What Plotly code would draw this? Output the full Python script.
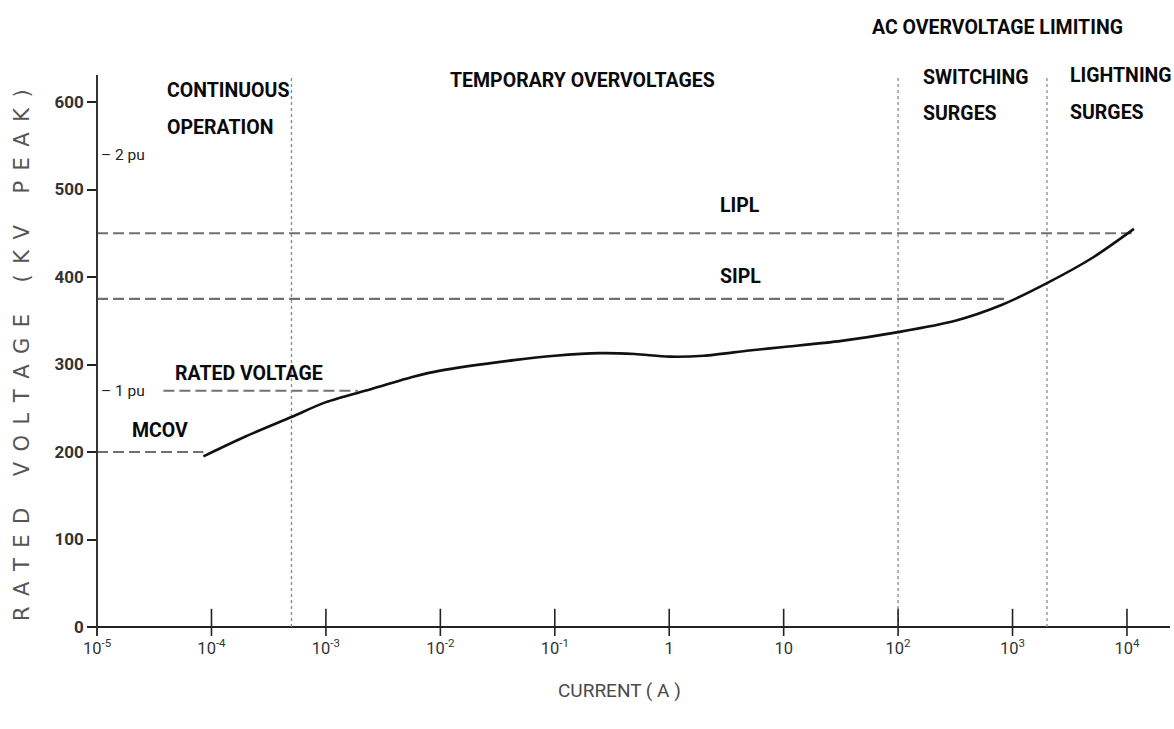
import plotly.graph_objects as go

# Arrester V-I characteristic: current (A) vs rated voltage (kV peak)
current_a = [8.5e-5, 2e-4, 5e-4, 1e-3, 2.5e-3, 5.8e-3, 1e-2, 4.4e-2, 0.1, 0.25,
             0.5, 1.0, 2.0, 5.0, 10.0, 32.0, 100.0, 316.0, 800.0, 2000.0, 5000.0, 11500.0]
voltage_kv = [195, 218, 240, 257, 272, 286, 293, 305, 310, 313,
              312, 309, 310, 316, 320, 327, 337, 350, 368, 393, 422, 455]

# Reference levels (kV peak)
mcov_kv = 200
rated_kv = 270
sipl_kv = 375
lipl_kv = 450
pu_levels_kv = [270, 540]
pu_labels = ["1 pu", "2 pu"]

# Extents of the dashed level lines along the current axis (A)
mcov_span = [1e-5, 8.5e-5]
rated_span = [3.8e-5, 1.9e-3]
sipl_span = [1e-5, 900.0]
lipl_span = [1e-5, 11000.0]

# Region boundaries (A)
boundaries_a = [5e-4, 100.0, 2000.0]

# Axis ticks
x_tickvals = [1e-5, 1e-4, 1e-3, 1e-2, 1e-1, 1, 10, 100, 1000, 10000]
x_ticktext = ["10<sup>-5</sup>", "10<sup>-4</sup>", "10<sup>-3</sup>", "10<sup>-2</sup>",
              "10<sup>-1</sup>", "1", "10", "10<sup>2</sup>", "10<sup>3</sup>", "10<sup>4</sup>"]
y_tickvals = [0, 100, 200, 300, 400, 500, 600]

Y_MIN, Y_MAX = -10.3, 630.9
X_MIN_LOG, X_MAX_LOG = -5.079, 4.376

# Plot-area geometry (pixels)
M_LEFT, M_RIGHT, M_TOP, M_BOTTOM = 88, 4, 75, 93
W, H = 1174, 729
PLOT_W = W - M_LEFT - M_RIGHT
PLOT_H = H - M_TOP - M_BOTTOM


def paper_x(px):
    return (px - M_LEFT) / PLOT_W


def paper_y(py):
    return (H - M_BOTTOM - py) / PLOT_H


BOLD = "Roboto, Liberation Sans, sans-serif"
PLAIN = "DejaVu Sans, Liberation Sans, sans-serif"
EN = "\u2002"
GAP = "\u2003\u2002"
LABEL_SIZE = 19.5

fig = go.Figure()

# Dashed level lines
dash_style = dict(color="#707070", width=2.2, dash="11px,5px")
for span, level in [(mcov_span, mcov_kv), (rated_span, rated_kv),
                    (sipl_span, sipl_kv), (lipl_span, lipl_kv)]:
    fig.add_trace(go.Scatter(x=span, y=[level, level], mode="lines",
                             line=dash_style, hoverinfo="skip"))

# Dotted region boundaries
for b in boundaries_a:
    fig.add_trace(go.Scatter(x=[b, b], y=[0, Y_MAX], mode="lines",
                             line=dict(color="#8a8a8a", width=1.3, dash="3px,3px"),
                             hoverinfo="skip"))

# Crossing tick marks on the current axis
fig.add_trace(go.Scatter(x=x_tickvals, y=[0] * len(x_tickvals), mode="markers",
                         marker=dict(symbol="line-ns", size=26,
                                     line=dict(color="#222", width=1.6)),
                         hoverinfo="skip"))

# V-I curve
fig.add_trace(go.Scatter(x=current_a, y=voltage_kv, mode="lines",
                         line=dict(color="#111", width=2.6, shape="spline", smoothing=0.8),
                         name="V-I"))

annotations = []


def label(text, x_log, y, size=LABEL_SIZE, font=BOLD, weight="bold", color="#0a0a0a"):
    annotations.append(dict(text=text, x=x_log, y=y, xref="x", yref="y",
                            xanchor="left", yanchor="middle", showarrow=False,
                            font=dict(family=font, size=size, color=color, weight=weight)))


label("CONTINUOUS", -4.41, 613.7)
label("OPERATION", -4.41, 571.4)
label("TEMPORARY OVERVOLTAGES", -1.93, 625)
label("SWITCHING", 2.203, 628.6)
label("SURGES", 2.203, 587.4)
label("LIGHTNING", 3.483, 630.5)
label("SURGES", 3.483, 588.6)
label("LIPL", 0.428, lipl_kv + 32)
label("SIPL", 0.428, sipl_kv + 26)
label("RATED VOLTAGE", -4.34, rated_kv + 20)
label("MCOV", -4.712, mcov_kv + 25)

# Heading above the plot area
annotations.append(dict(text="AC OVERVOLTAGE LIMITING", x=paper_x(870), y=paper_y(27),
                        xref="paper", yref="paper", xanchor="left", yanchor="middle",
                        showarrow=False,
                        font=dict(family=BOLD, size=LABEL_SIZE, color="#0a0a0a", weight="bold")))

for lvl, txt in zip(pu_levels_kv, pu_labels):
    label("\u2013 " + txt, -4.985, lvl, size=15.5, font=BOLD, weight="normal", color="#222")

# Axis titles
y_title = EN.join("RATED") + GAP + EN.join("VOLTAGE") + GAP + EN.join("(KV") + GAP + EN.join("PEAK)")
annotations.append(dict(text=y_title, x=paper_x(22), y=paper_y(355),
                        xref="paper", yref="paper", textangle=-90,
                        xanchor="center", yanchor="middle", showarrow=False,
                        font=dict(family=PLAIN, size=21, color="#555")))
annotations.append(dict(text="CURRENT ( A )", x=paper_x(619), y=paper_y(690),
                        xref="paper", yref="paper",
                        xanchor="center", yanchor="middle", showarrow=False,
                        font=dict(family=BOLD, size=19, color="#4a4a4a")))

fig.update_layout(
    width=W, height=H,
    margin=dict(l=M_LEFT, r=M_RIGHT, t=M_TOP, b=M_BOTTOM),
    paper_bgcolor="white", plot_bgcolor="white",
    showlegend=False,
    annotations=annotations,
    xaxis=dict(type="log", range=[X_MIN_LOG, X_MAX_LOG],
               tickvals=x_tickvals, ticktext=x_ticktext,
               ticks="", showgrid=False, zeroline=False, showline=False,
               tickfont=dict(family=BOLD, size=16.5, color="#333")),
    yaxis=dict(range=[Y_MIN, Y_MAX], tickvals=y_tickvals,
               ticks="outside", ticklen=9, tickwidth=1.6, tickcolor="#222",
               showline=True, linecolor="#333", linewidth=1.8,
               anchor="free", position=0.0083,
               zeroline=True, zerolinecolor="#222", zerolinewidth=2.2,
               showgrid=False,
               tickfont=dict(family=BOLD, size=17, color="#333", weight="bold")),
)

fig.write_html("out.html")
